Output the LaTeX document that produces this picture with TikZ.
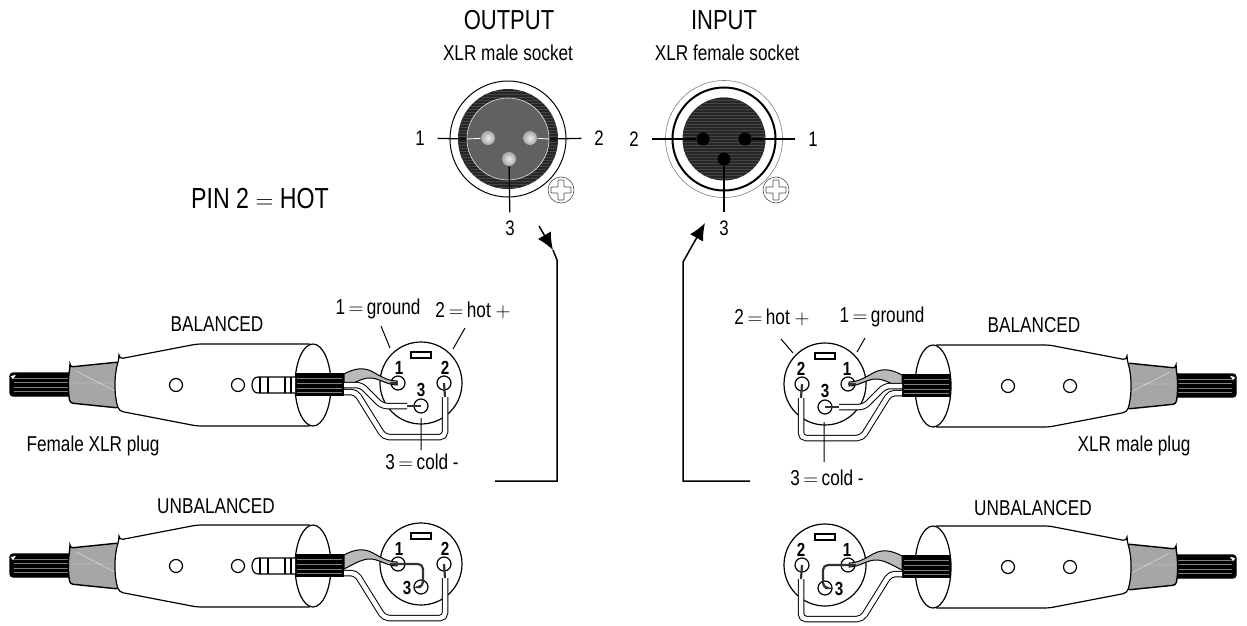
\documentclass[tikz,border=0pt]{standalone}
\usepackage{fontspec}
\setmainfont{Liberation Sans}[FakeStretch=0.8]
\usetikzlibrary{arrows.meta,positioning}
\newcommand{\fsz}[1]{\fontsize{#1}{#1}\selectfont}

\begin{document}
\begin{tikzpicture}[x=1pt,y=-1pt,line width=1.2pt,>=Latex]

	\useasboundingbox (0,0) rectangle (1247,626);

	\tikzset{title txt/.style={font=\fsz{27.5}, inner sep=0pt}}
	\tikzset{rule txt/.style={font=\fsz{29}, inner sep=0pt}}
	\tikzset{sub txt/.style={font=\fsz{21.5}, inner sep=0pt}}
	\tikzset{pin txt/.style={font=\fsz{21}, inner sep=0pt, minimum width=34pt, minimum height=30pt}}
	\tikzset{lead/.style={line width=1.3pt}}
	\tikzset{route/.style={line width=1.5pt}}
	\tikzset{wire/.style={line width=1pt, double=white, double distance=4.5pt, rounded corners=5pt}}
	\tikzset{core/.style={line width=2.2pt, draw=black!80}}
	\tikzset{xlr pin/.style={circle, draw, fill=white, minimum size=14pt, inner sep=0pt, line width=1.2pt}}
	\tikzset{pin no/.style={font=\bfseries\fsz{19}, inner sep=0pt}}
	\tikzset{gold pin/.style={circle, minimum size=14pt, inner sep=0pt, inner color=white!85!gray, outer color=gray!70}}
	\tikzset{hole pin/.style={circle, fill=black, minimum size=13pt, inner sep=0pt}}
	\tikzset{dark disc/.style={circle, inner sep=0pt, fill=black!85, path picture={
			\foreach \yy in {-48,-45,...,48}
			\draw[gray!55!black, line width=.5pt]
				([yshift=\yy pt]path picture bounding box.west) -- ([yshift=\yy pt]path picture bounding box.east);}}}

	% cable, boot and shell of a plug
	\tikzset{plug/.pic={
		\draw[fill=black, rounded corners=3pt] (10,-12) -- (75,-12) -- (75,11) -- (10,11) -- cycle;
		\foreach \yy in {-7,-3,2,6}
			\draw[gray, line width=.4pt] (14,\yy) -- (72,\yy);
		\draw[fill=white, line width=.6pt] (10,-9) -- (17,-11) -- (13,-5) -- cycle;
		\draw[fill=gray!70, line width=1.4pt, rounded corners=3pt] (70,-18) -- (119,-23) -- (119,23) -- (70,18)
			.. controls (68,6) and (68,-6) .. (70,-18) -- cycle;
		\draw[white!80!gray, line width=.4pt] (72,-2) -- (117,-2) (76,-14) -- (115,6);
		\draw[fill=white, rounded corners=4pt] (119,-26) -- (197,-41) -- (313,-41) -- (313,41) -- (197,41) -- (119,26)
			.. controls (114,10) and (114,-10) .. (119,-26) -- cycle;
		\node[circle, draw, minimum size=13pt, inner sep=0pt] (h1) at (176,0) {};
		\node[circle, draw, minimum size=13pt, inner sep=0pt] (h2) at (238,0) {};
		\draw[fill=white] (313,0) ellipse [x radius=18, y radius=41];
		\fill[black] (295,-12) rectangle (344,11);
		\foreach \yy in {-7,-2,3,7}
			\draw[gray, line width=.4pt] (297,\yy) -- (342,\yy);
	}}

	% only the left plugs show the jack
	\tikzset{jack/.pic={
		\draw[fill=white] (295,-8) -- (258,-8) .. controls (250,-8) and (250,8) .. (258,8) -- (295,8);
		\foreach \xx in {260,268,285,291}
			\draw (\xx,-8) -- (\xx,8);
	}}

	% round insert with pins 1, 2, the shield and the hot wire
	\tikzset{xlr/.pic={
		\node[circle, draw, fill=white, minimum size=82pt, inner sep=0pt] (shell) at (421,-2) {};
		\node[draw, fill=white, minimum width=20pt, minimum height=6pt, inner sep=0pt] (key) at (421,-30) {};
		\node[xlr pin] (p1) at (398,-2) {};
		\node[xlr pin] (p2) at (444,-2) {};
		\node[pin no] (n1) at (399,-17) {1};
		\node[pin no] (n2) at (445,-17) {2};
		\coordinate (hot a) at (344,7);
		\coordinate (hot b) at (445,12);
		\draw[wire] (hot a) -- (356,7) -- (384,52) -- (445,52) -- (hot b);
		\draw[core] (hot b) -- (p2.center);
		\draw[fill=gray!55, line width=1pt] (344,-11) .. controls (355,-17) and (364,-18) .. (373,-13)
			.. controls (380,-9) and (388,-4) .. (397,-4) -- (397,0)
			.. controls (386,0) and (378,-8) .. (368,-7) .. controls (360,-6) and (352,-1) .. (344,3) -- cycle;
		\draw[core, line width=1.5pt] (390,-2) -- (p1.center);
	}}

	\tikzset{balanced/.pic={
		\pic {plug};
		\pic {xlr};
		\node[xlr pin] (p3) at (421,21) {};
		\node[pin no] (n3) at (421,5) {3};
		\coordinate (cold a) at (344,0);
		\coordinate (cold b) at (407,21);
		\draw[wire] (cold a) -- (361,0) -- (382,21) -- (cold b);
		\draw[core] (cold b) -- (p3.center);
	}}

	\tikzset{unbalanced/.pic={
		\pic {plug};
		\pic {xlr};
		\node[xlr pin] (p3) at (421,21) {};
		\node[pin no] (n3) at (407,22) {3};
		\draw[core, rounded corners=5pt] (p1.center) -- (423,-2) -- (423,21) -- (p3.center);
	}}

	% the two sockets
	\node[circle, draw, line width=1pt, minimum size=116pt, inner sep=0pt] (m rim) at (508,139) {};
	\node[dark disc, minimum size=100pt] (m ring) at (508,139) {};
	\node[circle, draw=white!80!gray, fill=black!62, line width=.6pt, minimum size=82pt, inner sep=0pt] (m disc) at (508,139) {};
	\node[gold pin] (m1) at (488,138) {};
	\node[gold pin] (m2) at (530,138) {};
	\node[gold pin] (m3) at (509,159) {};

	\node[circle, draw=gray, line width=.6pt, minimum size=117pt, inner sep=0pt] (f rim) at (724,139) {};
	\node[circle, draw, line width=2pt, minimum size=103pt, inner sep=0pt] (f ring) at (724,139) {};
	\node[dark disc, minimum size=83pt] (f disc) at (724,139) {};
	\node[hole pin] (f1) at (745,139) {};
	\node[hole pin] (f2) at (703,139) {};
	\node[hole pin] (f3) at (724,159) {};

	\foreach \sx/\sname in {561/m, 776/f} {
		\node[circle, draw=black!70, fill=white, line width=.6pt, minimum size=26pt, inner sep=0pt] (\sname screw) at (\sx,190) {};
		\draw[black!70, line width=.7pt, rounded corners=.6pt, shift={(\sx,190)}]
			(-3,-10) -- (3,-10) -- (3,-3) -- (10,-3) -- (10,3) -- (3,3) -- (3,10) -- (-3,10) -- (-3,3) -- (-10,3) -- (-10,-3) -- (-3,-3) -- cycle;
	}

	\node[pin txt] (m1 txt) at (420,138) {1};
	\node[pin txt] (m2 txt) at (599,138) {2};
	\node[pin txt] (m3 txt) at (510,228) {3};
	\node[pin txt] (f2 txt) at (634,139) {2};
	\node[pin txt] (f1 txt) at (813,139) {1};
	\node[pin txt] (f3 txt) at (724,228) {3};

	\draw[lead] (m1 txt) -- (m disc.west);
	\draw[lead] (m2 txt) -- (m disc.east);
	\draw[lead] (m3 txt) -- (m3);
	\draw[white, line width=.8pt] (m disc.west) -- (m1);
	\draw[white, line width=.8pt] (m disc.east) -- (m2);
	\draw[lead] (f2 txt) -- (f2);
	\draw[lead] (f1 txt) -- (f1);
	\draw[lead] (f3 txt) -- (f3);

	% titles
	\node[title txt] (out) at (509,20) {OUTPUT};
	\node[title txt] (in) at (724,20) {INPUT};
	\node[sub txt] (out sub) at (508,53) {XLR male socket};
	\node[sub txt] (in sub) at (727,53) {XLR female socket};
	\node[rule txt] (hot rule) at (260,199) {PIN 2 $=$ HOT};

	% plugs on the left, the same plugs mirrored on the right
	\pic (lb) at (0,385) {balanced};
	\pic (lj) at (0,385) {jack};
	\pic (lu) at (0,566) {unbalanced};
	\pic (lk) at (0,566) {jack};
	\begin{scope}[x=-1pt]
		\pic (rb) at (-1246,386) {balanced};
		\pic (ru) at (-1246,567) {unbalanced};
	\end{scope}

	\node[sub txt] (l bal) at (217,324) {BALANCED};
	\node[sub txt] (r bal) at (1034,325) {BALANCED};
	\node[sub txt] (l unbal) at (216,506) {UNBALANCED};
	\node[sub txt] (r unbal) at (1033,508) {UNBALANCED};
	\node[sub txt] (l plug) at (93,446) {Female XLR plug};
	\node[sub txt] (r plug) at (1134,446) {XLR male plug};

	\node[sub txt] (l gnd) at (378,309) {1$\,=\,$ground};
	\node[sub txt] (l hot) at (473,310) {2$\,=\,$hot $+$};
	\node[sub txt] (l cold) at (422,462) {3$\,=\,$cold -};
	\node[sub txt] (r hot) at (772,317) {2$\,=\,$hot $+$};
	\node[sub txt] (r gnd) at (882,317) {1$\,=\,$ground};
	\node[sub txt] (r cold) at (827,478) {3$\,=\,$cold -};

	\coordinate (l gnd a) at (381,326);
	\coordinate (l gnd b) at (390,348);
	\coordinate (l hot a) at (465,328);
	\coordinate (l hot b) at (453,349);
	\coordinate (l cold a) at (421,418);
	\coordinate (l cold b) at (421,450);
	\coordinate (r gnd a) at (865,338);
	\coordinate (r gnd b) at (857,352);
	\coordinate (r hot a) at (781,339);
	\coordinate (r hot b) at (793,353);
	\coordinate (r cold a) at (824,422);
	\coordinate (r cold b) at (824,462);
	\draw[lead, line width=1pt]
		(l gnd a) -- (l gnd b)
		(l hot a) -- (l hot b)
		(l cold a) -- (l cold b)
		(r gnd a) -- (r gnd b)
		(r hot a) -- (r hot b)
		(r cold a) -- (r cold b);

	% signal routes
	\coordinate (out a) at (539,226);
	\coordinate (out tip) at (553,250);
	\coordinate (out b) at (495,481);
	\coordinate (in a) at (750,481);
	\coordinate (in tip) at (705,223);
	\draw[route, -{Latex[length=17pt,width=15pt]}] (out a) -- (out tip);
	\draw[route] (out tip) -- (557,260) -- (557,481) -- (out b);
	\draw[route, -{Latex[length=17pt,width=15pt]}] (in a) -- (683,481) -- (683,262) -- (in tip);
\end{tikzpicture}
\end{document}
